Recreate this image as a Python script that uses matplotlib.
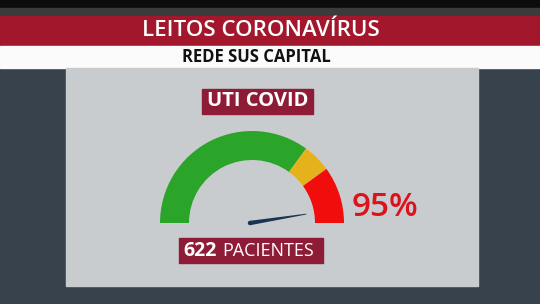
import matplotlib
matplotlib.use("Agg")
import matplotlib.pyplot as plt
from matplotlib.patches import Wedge, Rectangle, Polygon, Circle
import numpy as np

# ---- data ----
title = "LEITOS CORONAVÍRUS"
subtitle = "REDE SUS CAPITAL"
gauge_label = "UTI COVID"
zone_limits = [0, 70, 80, 100]          # percent boundaries of zones
zone_colors = ["#2aa52a", "#e6b21c", "#f20d0d"]
occupancy = 95                           # percent
patients = 622
patients_word = "PACIENTES"

W, H = 540, 304
fig = plt.figure(figsize=(W / 100, H / 100), dpi=100)
ax = fig.add_axes([0, 0, 1, 1])
ax.set_xlim(0, W)
ax.set_ylim(0, H)
ax.axis("off")

def Y(py):
    return H - py

FONT = ["Open Sans", "DejaVu Sans"]

# background
ax.add_patch(Rectangle((0, 0), W, H, color="#37424c", zorder=0))
# top bars
ax.add_patch(Rectangle((0, Y(8)), W, 8, color="#0c0c0c", zorder=1))
ax.add_patch(Rectangle((0, Y(16)), W, 8, color="#3b3b3b", zorder=1))
ax.add_patch(Rectangle((0, Y(46)), W, 30, color="#a3172d", zorder=1))
ax.add_patch(Rectangle((0, Y(68)), W, 22, color="#fbfbfb", zorder=1))
# panel
ax.add_patch(Rectangle((66, Y(286)), 412, 218, color="#c8cccf", zorder=1))

ax.text(261, Y(31), title, ha="center", va="center", color="white",
        fontsize=16, fontweight="semibold", family=FONT, zorder=3)
ax.text(256, Y(57.5), subtitle, ha="center", va="center", color="#111111",
        fontsize=12, fontweight="bold", family=FONT, zorder=3)

# gauge
cx, cy = 252, Y(223)
r_out, r_in = 92, 63
for lo, hi, col in zip(zone_limits[:-1], zone_limits[1:], zone_colors):
    t1 = 180 - hi / 100 * 180
    t2 = 180 - lo / 100 * 180
    ax.add_patch(Wedge((cx, cy), r_out, t1, t2, width=r_out - r_in,
                       facecolor=col, edgecolor="none", zorder=2))

# needle
ang = np.deg2rad(180 - occupancy / 100 * 180)
L = 57
d = np.array([np.cos(ang), np.sin(ang)])
n = np.array([-d[1], d[0]])
base = np.array([cx - 2, cy])
pts = [base + n * 2.2, base + d * L + n * 0.4, base + d * L - n * 0.4, base - n * 2.2]
ax.add_patch(Polygon(pts, closed=True, facecolor="#1b3350", edgecolor="none", zorder=3))
ax.add_patch(Circle(base, 2.2, facecolor="#1b3350", edgecolor="none", zorder=3))

ax.text(352, Y(208), f"{occupancy}%", ha="left", va="center", color="#dc131c",
        fontsize=24, fontweight="semibold", family=FONT, zorder=3)

# label boxes
ax.add_patch(Rectangle((202, Y(114)), 111, 25, color="#8e1c36", zorder=2))
ax.text(257.5, Y(101.5), gauge_label, ha="center", va="center", color="white",
        fontsize=14.5, fontweight="bold", family=FONT, zorder=3)

ax.add_patch(Rectangle((179, Y(263)), 144, 25, color="#8e1c36", zorder=2))
ax.text(183, Y(250.5), str(patients), ha="left", va="center", color="white",
        fontsize=14, fontweight="bold", family=FONT, zorder=3)
ax.text(222, Y(250.5), patients_word, ha="left", va="center", color="white",
        fontsize=13, fontweight="normal", family=FONT, zorder=3)

fig.savefig("out.png", dpi=100)
